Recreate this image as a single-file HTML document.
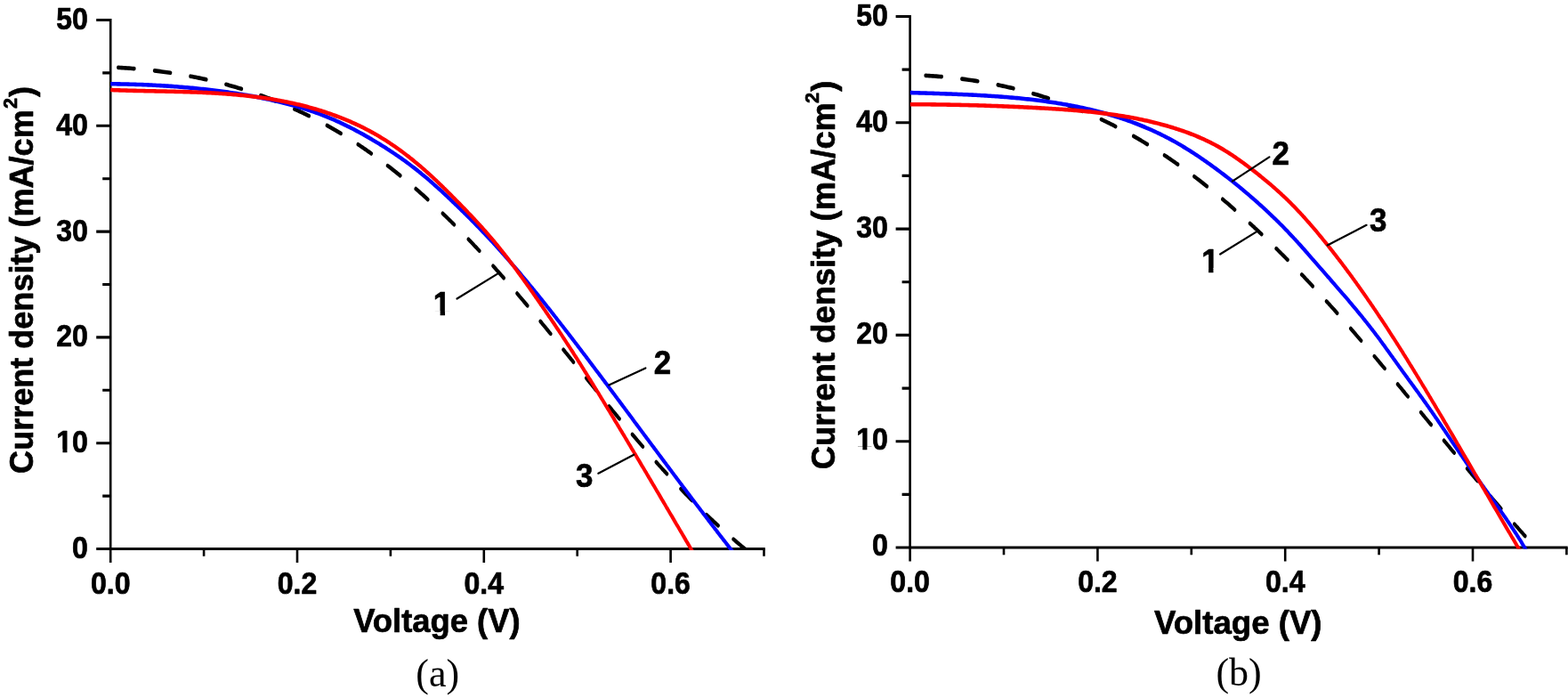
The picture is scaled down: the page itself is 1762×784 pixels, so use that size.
<!DOCTYPE html>
<html lang="en">
<head>
<meta charset="utf-8">
<title>Current density vs. voltage</title>
<style>
html, body { margin: 0; padding: 0; background: #ffffff; }
body { width: 1762px; height: 784px; overflow: hidden; }
svg { display: block; }
</style>
</head>
<body>
<svg width="1762" height="784" viewBox="0 0 1762 784" role="img" aria-label="Current density versus voltage curves, panels (a) and (b)">
<rect x="0" y="0" width="1762" height="784" fill="#ffffff"/>
<defs><clipPath id="one-tick-end"><rect x="-40.04" y="-37.62" width="102.60" height="33.53"/><rect x="-30.36" y="-37.62" width="5.29" height="47.88"/><rect x="-18.42" y="-37.62" width="22.02" height="47.88"/></clipPath><clipPath id="one-num"><rect x="-2.00" y="-41.36" width="112.80" height="36.92"/><rect x="8.48" y="-41.36" width="5.76" height="52.64"/></clipPath></defs>
<g stroke="#000" fill="none" stroke-linecap="butt">
<path stroke-width="2.6" d="M124.2,20.9 V632.0"/>
<path stroke-width="3.1" d="M108.2,616.5 H859.8"/>
<path stroke-width="3.1" d="M115.2,557.1 H124.2 M108.2,497.7 H124.2 M115.2,438.3 H124.2 M108.2,378.9 H124.2 M115.2,319.5 H124.2 M108.2,260.1 H124.2 M115.2,200.7 H124.2 M108.2,141.3 H124.2 M115.2,81.9 H124.2 M108.2,22.5 H124.2"/>
<path stroke-width="2.6" d="M229.1,616.5 V624.7 M334.0,616.5 V632.0 M438.9,616.5 V624.7 M543.8,616.5 V632.0 M648.7,616.5 V624.7 M753.6,616.5 V632.0 M858.5,616.5 V624.7"/>
</g>
<clipPath id="clipa"><rect x="122.90" y="0" width="736.90" height="618.05"/></clipPath>
<g clip-path="url(#clipa)">
<g transform="scale(1,1.25)"><path d="M132.9,60.71 L134.9,60.80 L136.9,60.89 L138.9,60.99 L140.9,61.09 L142.9,61.20 L144.9,61.32 L146.9,61.44 L148.8,61.56 L150.8,61.69 M173.7,63.53 L175.6,63.73 L177.6,63.92 L179.6,64.13 L181.6,64.34 L183.6,64.55 L185.6,64.77 L187.5,64.99 L189.5,65.22 L191.5,65.46 M214.1,68.54 L216.1,68.84 L218.0,69.15 L220.0,69.47 L221.9,69.79 L223.9,70.11 L225.9,70.44 L227.8,70.78 L229.8,71.12 L231.7,71.47 M254.0,75.87 L255.9,76.29 L257.8,76.72 L259.8,77.15 L261.7,77.59 L263.6,78.04 L265.5,78.49 L267.4,78.94 L269.4,79.41 L271.3,79.87 M293.0,85.68 L294.9,86.22 L296.8,86.77 L298.7,87.33 L300.5,87.89 L302.4,88.45 L304.3,89.03 L306.1,89.61 L308.0,90.19 L309.8,90.78 M330.9,97.98 L332.8,98.65 L334.6,99.32 L336.4,99.99 L338.2,100.67 L340.0,101.36 L341.8,102.05 L343.6,102.75 L345.4,103.46 L347.2,104.17 M367.5,112.72 L369.2,113.50 L371.0,114.29 L372.7,115.08 L374.4,115.88 L376.2,116.69 L377.9,117.50 L379.6,118.31 L381.3,119.13 L383.0,119.96 M402.4,129.79 L404.0,130.68 L405.7,131.58 L407.4,132.48 L409.0,133.38 L410.7,134.29 L412.3,135.20 L413.9,136.12 L415.6,137.04 L417.2,137.96 M435.6,148.89 L437.2,149.86 L438.8,150.85 L440.4,151.83 L441.9,152.82 L443.5,153.82 L445.1,154.81 L446.6,155.82 L448.2,156.82 L449.7,157.83 M467.3,169.64 L468.8,170.70 L470.3,171.75 L471.8,172.81 L473.3,173.87 L474.8,174.93 L476.3,176.00 L477.8,177.07 L479.2,178.14 L480.7,179.22 M497.5,191.76 L498.9,192.87 L500.3,193.98 L501.8,195.09 L503.2,196.21 L504.6,197.33 L506.1,198.45 L507.5,199.58 L508.9,200.71 L510.3,201.83 M526.4,214.94 L527.7,216.10 L529.1,217.26 L530.5,218.42 L531.9,219.58 L533.2,220.74 L534.6,221.91 L536.0,223.08 L537.3,224.25 L538.7,225.42 M554.1,238.97 L555.5,240.17 L556.8,241.36 L558.1,242.56 L559.5,243.75 L560.8,244.95 L562.1,246.15 L563.4,247.35 L564.8,248.55 L566.1,249.76 L566.1,249.76 M581.1,263.65 L582.4,264.87 L583.6,266.09 L584.9,267.31 L586.2,268.53 L587.5,269.75 L588.8,270.98 L590.1,272.20 L591.4,273.43 L592.7,274.65 M607.3,288.77 L608.6,290.01 L609.8,291.25 L611.1,292.48 L612.4,293.72 L613.6,294.96 L614.9,296.20 L616.2,297.44 L617.4,298.68 L618.7,299.92 M633.1,314.18 L634.4,315.42 L635.6,316.67 L636.9,317.91 L638.1,319.16 L639.4,320.41 L640.7,321.65 L641.9,322.90 L643.2,324.15 L644.4,325.39 M658.8,339.69 L660.0,340.93 L661.3,342.18 L662.5,343.43 L663.8,344.67 L665.1,345.92 L666.3,347.16 L667.6,348.41 L668.8,349.65 L670.1,350.90 M684.5,365.14 L685.8,366.38 L687.1,367.62 L688.3,368.86 L689.6,370.09 L690.9,371.33 L692.1,372.57 L693.4,373.80 L694.7,375.04 L696.0,376.27 M710.6,390.36 L711.9,391.59 L713.2,392.81 L714.5,394.03 L715.8,395.25 L717.1,396.47 L718.4,397.68 L719.7,398.90 L721.0,400.12 L722.3,401.33 M737.4,415.15 L738.7,416.34 L740.0,417.54 L741.4,418.73 L742.7,419.92 L744.0,421.11 L745.4,422.30 L746.7,423.49 L748.1,424.67 L749.4,425.85 M765.1,439.27 L766.4,440.43 L767.8,441.59 L769.2,442.74 L770.6,443.89 L772.0,445.04 L773.4,446.19 L774.8,447.33 L776.2,448.47 L777.6,449.61 M793.9,462.49 L795.4,463.60 L796.8,464.70 L798.3,465.80 L799.7,466.90 L801.2,467.99 L802.6,469.09 L804.1,470.18 L805.6,471.26 L807.0,472.34 M824.2,484.53 L825.7,485.57 L827.2,486.61 L828.7,487.64 L830.3,488.68 L831.8,489.70 L833.3,490.73 L834.9,491.75 L836.4,492.76 L837.2,493.25" fill="none" stroke="#000" stroke-width="3.7" stroke-linecap="round" stroke-linejoin="round"/></g>
<g transform="scale(1,1.2)" fill="none" stroke-width="3.8" stroke-linejoin="round">
<path d="M124.2,78.54 L126.2,78.56 L128.2,78.58 L130.2,78.61 L132.2,78.63 L134.2,78.66 L136.2,78.69 L138.2,78.73 L140.2,78.76 L142.3,78.80 L144.3,78.85 L146.3,78.89 L148.3,78.94 L150.3,78.99 L152.3,79.04 L154.3,79.10 L156.3,79.16 L158.3,79.22 L160.3,79.29 L162.3,79.35 L164.3,79.43 L166.3,79.50 L168.3,79.58 L170.3,79.66 L172.3,79.74 L174.3,79.83 L176.3,79.92 L178.3,80.01 L180.3,80.11 L182.3,80.21 L184.3,80.31 L186.3,80.42 L188.3,80.52 L190.3,80.64 L192.3,80.75 L194.3,80.87 L196.3,80.99 L198.3,81.12 L200.3,81.25 L202.3,81.38 L204.3,81.52 L206.3,81.66 L208.3,81.80 L210.3,81.95 L212.3,82.10 L214.3,82.25 L216.3,82.41 L218.3,82.57 L220.3,82.74 L222.3,82.91 L224.3,83.08 L226.3,83.26 L228.3,83.43 L230.3,83.62 L232.3,83.81 L234.3,84.00 L236.3,84.19 L238.3,84.39 L240.3,84.59 L242.2,84.80 L244.2,85.01 L246.2,85.23 L248.2,85.45 L250.2,85.67 L252.2,85.89 L254.2,86.13 L256.2,86.36 L258.1,86.60 L260.1,86.84 L262.1,87.09 L264.1,87.34 L266.1,87.60 L268.1,87.86 L270.0,88.12 L272.0,88.39 L274.0,88.66 L276.0,88.94 L278.0,89.22 L279.9,89.50 L281.9,89.80 L283.9,90.09 L285.9,90.39 L287.8,90.70 L289.8,91.01 L291.8,91.33 L293.7,91.65 L295.7,91.98 L297.7,92.31 L299.6,92.65 L301.6,93.00 L303.6,93.35 L305.5,93.71 L307.5,94.07 L309.4,94.44 L311.4,94.82 L313.3,95.21 L315.3,95.60 L317.2,96.00 L319.2,96.40 L321.1,96.82 L323.1,97.24 L325.0,97.66 L326.9,98.10 L328.9,98.54 L330.8,98.99 L332.7,99.45 L334.7,99.92 L336.6,100.39 L338.5,100.88 L340.4,101.37 L342.3,101.87 L344.2,102.38 L346.1,102.90 L348.1,103.42 L350.0,103.96 L351.8,104.50 L353.7,105.06 L355.6,105.62 L357.5,106.19 L359.4,106.78 L361.3,107.37 L363.1,107.97 L365.0,108.58 L366.9,109.20 L368.7,109.83 L370.6,110.47 L372.4,111.13 L374.3,111.79 L376.1,112.46 L377.9,113.14 L379.8,113.83 L381.6,114.53 L383.4,115.23 L385.2,115.95 L387.0,116.68 L388.8,117.41 L390.6,118.15 L392.4,118.90 L394.2,119.66 L396.0,120.42 L397.8,121.19 L399.5,121.97 L401.3,122.76 L403.1,123.55 L404.8,124.35 L406.6,125.16 L408.4,125.97 L410.1,126.79 L411.8,127.62 L413.6,128.45 L415.3,129.29 L417.1,130.13 L418.8,130.98 L420.5,131.83 L422.2,132.69 L423.9,133.56 L425.7,134.43 L427.4,135.30 L429.1,136.19 L430.8,137.07 L432.5,137.96 L434.2,138.86 L435.8,139.77 L437.5,140.68 L439.2,141.59 L440.9,142.51 L442.5,143.44 L444.2,144.38 L445.9,145.32 L447.5,146.26 L449.2,147.22 L450.8,148.18 L452.4,149.14 L454.1,150.11 L455.7,151.09 L457.3,152.08 L458.9,153.07 L460.5,154.07 L462.1,155.08 L463.7,156.09 L465.3,157.11 L466.9,158.14 L468.5,159.17 L470.1,160.21 L471.6,161.26 L473.2,162.31 L474.7,163.37 L476.3,164.44 L477.8,165.51 L479.4,166.59 L480.9,167.67 L482.4,168.76 L483.9,169.85 L485.4,170.95 L486.9,172.06 L488.4,173.16 L489.9,174.28 L491.4,175.39 L492.9,176.52 L494.4,177.64 L495.9,178.77 L497.4,179.90 L498.8,181.04 L500.3,182.17 L501.8,183.32 L503.2,184.46 L504.7,185.61 L506.1,186.76 L507.6,187.91 L509.0,189.06 L510.5,190.22 L511.9,191.38 L513.4,192.54 L514.8,193.70 L516.3,194.87 L517.7,196.03 L519.1,197.20 L520.6,198.37 L522.0,199.55 L523.4,200.72 L524.8,201.90 L526.3,203.08 L527.7,204.26 L529.1,205.45 L530.5,206.63 L531.9,207.82 L533.3,209.01 L534.7,210.21 L536.1,211.40 L537.5,212.60 L538.9,213.80 L540.3,215.01 L541.7,216.21 L543.1,217.42 L544.5,218.63 L545.8,219.85 L547.2,221.06 L548.6,222.28 L550.0,223.50 L551.3,224.72 L552.7,225.95 L554.1,227.18 L555.4,228.41 L556.8,229.64 L558.1,230.88 L559.5,232.11 L560.8,233.35 L562.2,234.60 L563.5,235.84 L564.8,237.09 L566.2,238.34 L567.5,239.59 L568.8,240.84 L570.2,242.09 L571.5,243.35 L572.8,244.61 L574.1,245.87 L575.4,247.13 L576.7,248.40 L578.1,249.66 L579.4,250.93 L580.7,252.20 L582.0,253.47 L583.3,254.75 L584.6,256.02 L585.9,257.30 L587.1,258.58 L588.4,259.86 L589.7,261.14 L591.0,262.42 L592.3,263.71 L593.6,264.99 L594.8,266.28 L596.1,267.57 L597.4,268.86 L598.7,270.16 L599.9,271.45 L601.2,272.74 L602.5,274.04 L603.7,275.34 L605.0,276.64 L606.3,277.94 L607.5,279.24 L608.8,280.54 L610.0,281.85 L611.3,283.15 L612.5,284.46 L613.8,285.77 L615.0,287.07 L616.3,288.38 L617.5,289.69 L618.8,291.01 L620.0,292.32 L621.3,293.63 L622.5,294.95 L623.7,296.26 L625.0,297.58 L626.2,298.89 L627.4,300.21 L628.7,301.53 L629.9,302.85 L631.1,304.17 L632.4,305.49 L633.6,306.81 L634.8,308.14 L636.0,309.46 L637.3,310.78 L638.5,312.11 L639.7,313.43 L640.9,314.76 L642.2,316.08 L643.4,317.41 L644.6,318.74 L645.8,320.06 L647.0,321.39 L648.3,322.72 L649.5,324.05 L650.7,325.38 L651.9,326.71 L653.1,328.04 L654.3,329.37 L655.5,330.70 L656.8,332.03 L658.0,333.37 L659.2,334.70 L660.4,336.03 L661.6,337.36 L662.8,338.70 L664.0,340.03 L665.2,341.37 L666.4,342.70 L667.6,344.04 L668.8,345.37 L670.0,346.71 L671.3,348.04 L672.5,349.38 L673.7,350.72 L674.9,352.05 L676.1,353.39 L677.3,354.73 L678.5,356.07 L679.7,357.41 L680.9,358.74 L682.1,360.08 L683.3,361.42 L684.5,362.76 L685.7,364.10 L686.9,365.44 L688.1,366.78 L689.3,368.12 L690.5,369.46 L691.7,370.80 L692.9,372.14 L694.1,373.48 L695.3,374.82 L696.5,376.16 L697.7,377.50 L698.9,378.84 L700.1,380.18 L701.3,381.52 L702.5,382.86 L703.7,384.20 L704.9,385.54 L706.1,386.88 L707.3,388.22 L708.5,389.57 L709.7,390.91 L710.9,392.25 L712.0,393.59 L713.2,394.93 L714.4,396.27 L715.6,397.61 L716.8,398.95 L718.0,400.30 L719.2,401.64 L720.4,402.98 L721.6,404.32 L722.8,405.66 L724.0,407.00 L725.2,408.34 L726.4,409.68 L727.6,411.02 L728.8,412.36 L730.0,413.71 L731.2,415.05 L732.4,416.39 L733.6,417.73 L734.8,419.07 L736.0,420.41 L737.2,421.75 L738.4,423.09 L739.6,424.43 L740.8,425.77 L742.0,427.11 L743.2,428.45 L744.4,429.79 L745.6,431.13 L746.8,432.47 L748.0,433.81 L749.2,435.15 L750.4,436.49 L751.6,437.82 L752.8,439.16 L754.0,440.50 L755.2,441.84 L756.4,443.18 L757.6,444.52 L758.8,445.85 L760.0,447.19 L761.2,448.53 L762.4,449.86 L763.6,451.20 L764.8,452.54 L766.0,453.87 L767.2,455.21 L768.4,456.55 L769.7,457.88 L770.9,459.22 L772.1,460.55 L773.3,461.89 L774.5,463.22 L775.7,464.55 L776.9,465.89 L778.1,467.22 L779.3,468.56 L780.5,469.89 L781.7,471.22 L782.9,472.55 L784.2,473.89 L785.4,475.22 L786.6,476.55 L787.8,477.88 L789.0,479.21 L790.2,480.54 L791.4,481.87 L792.7,483.20 L793.9,484.53 L795.1,485.86 L796.3,487.19 L797.5,488.51 L798.7,489.84 L800.0,491.17 L801.2,492.49 L802.4,493.82 L803.6,495.15 L804.9,496.47 L806.1,497.80 L807.3,499.12 L808.5,500.45 L809.7,501.77 L811.0,503.09 L812.2,504.42 L813.4,505.74 L814.7,507.06 L815.9,508.38 L817.1,509.70 L818.3,511.02 L819.6,512.34 L820.8,513.66 L824.5,517.61" stroke="#0000ff"/>
<path d="M124.2,84.17 L126.2,84.24 L128.2,84.30 L130.2,84.37 L132.2,84.43 L134.2,84.48 L136.2,84.54 L138.3,84.59 L140.3,84.65 L142.3,84.70 L144.3,84.74 L146.3,84.79 L148.3,84.83 L150.3,84.88 L152.3,84.92 L154.3,84.96 L156.3,85.00 L158.3,85.04 L160.3,85.07 L162.4,85.11 L164.4,85.14 L166.4,85.18 L168.4,85.21 L170.4,85.25 L172.4,85.28 L174.4,85.32 L176.4,85.35 L178.4,85.38 L180.4,85.42 L182.4,85.45 L184.4,85.49 L186.5,85.52 L188.5,85.56 L190.5,85.60 L192.5,85.63 L194.5,85.67 L196.5,85.71 L198.5,85.76 L200.5,85.80 L202.5,85.84 L204.5,85.89 L206.5,85.94 L208.5,85.99 L210.6,86.04 L212.6,86.09 L214.6,86.15 L216.6,86.20 L218.6,86.26 L220.6,86.33 L222.6,86.39 L224.6,86.46 L226.6,86.53 L228.6,86.61 L230.6,86.68 L232.6,86.76 L234.6,86.85 L236.6,86.93 L238.7,87.03 L240.7,87.12 L242.7,87.22 L244.7,87.32 L246.7,87.43 L248.7,87.54 L250.7,87.65 L252.7,87.77 L254.7,87.89 L256.7,88.02 L258.7,88.16 L260.7,88.29 L262.7,88.44 L264.7,88.58 L266.7,88.74 L268.7,88.89 L270.7,89.06 L272.7,89.23 L274.7,89.40 L276.7,89.58 L278.7,89.77 L280.7,89.96 L282.7,90.16 L284.7,90.36 L286.7,90.57 L288.7,90.79 L290.7,91.01 L292.6,91.24 L294.6,91.47 L296.6,91.71 L298.6,91.96 L300.6,92.21 L302.6,92.47 L304.6,92.74 L306.5,93.02 L308.5,93.30 L310.5,93.59 L312.5,93.88 L314.5,94.19 L316.4,94.50 L318.4,94.81 L320.4,95.14 L322.3,95.47 L324.3,95.81 L326.3,96.16 L328.2,96.51 L330.2,96.88 L332.2,97.25 L334.1,97.63 L336.1,98.01 L338.0,98.41 L340.0,98.81 L341.9,99.22 L343.9,99.64 L345.8,100.07 L347.7,100.51 L349.7,100.96 L351.6,101.41 L353.5,101.87 L355.5,102.34 L357.4,102.82 L359.3,103.31 L361.2,103.81 L363.1,104.32 L365.1,104.84 L367.0,105.36 L368.9,105.90 L370.8,106.44 L372.7,106.99 L374.6,107.56 L376.4,108.13 L378.3,108.71 L380.2,109.30 L382.1,109.90 L384.0,110.52 L385.8,111.14 L387.7,111.77 L389.5,112.41 L391.4,113.06 L393.2,113.72 L395.1,114.39 L396.9,115.07 L398.7,115.76 L400.6,116.46 L402.4,117.17 L404.2,117.89 L406.0,118.62 L407.8,119.36 L409.6,120.11 L411.4,120.88 L413.2,121.65 L414.9,122.43 L416.7,123.23 L418.5,124.03 L420.2,124.85 L422.0,125.67 L423.7,126.51 L425.4,127.36 L427.2,128.22 L428.9,129.09 L430.6,129.96 L432.3,130.85 L434.0,131.75 L435.7,132.66 L437.4,133.57 L439.0,134.50 L440.7,135.43 L442.4,136.38 L444.0,137.33 L445.7,138.29 L447.3,139.26 L448.9,140.24 L450.6,141.22 L452.2,142.22 L453.8,143.22 L455.4,144.23 L457.0,145.25 L458.6,146.27 L460.2,147.30 L461.7,148.34 L463.3,149.39 L464.9,150.44 L466.4,151.50 L468.0,152.56 L469.5,153.64 L471.0,154.72 L472.6,155.80 L474.1,156.89 L475.6,157.99 L477.1,159.09 L478.6,160.20 L480.1,161.32 L481.6,162.44 L483.1,163.56 L484.6,164.69 L486.1,165.83 L487.5,166.97 L489.0,168.11 L490.5,169.26 L491.9,170.41 L493.4,171.57 L494.8,172.73 L496.3,173.89 L497.7,175.06 L499.1,176.23 L500.6,177.40 L502.0,178.58 L503.4,179.76 L504.9,180.94 L506.3,182.12 L507.7,183.31 L509.1,184.49 L510.5,185.68 L511.9,186.88 L513.3,188.07 L514.8,189.26 L516.2,190.46 L517.6,191.66 L519.0,192.86 L520.4,194.06 L521.8,195.26 L523.2,196.46 L524.6,197.67 L525.9,198.88 L527.3,200.09 L528.7,201.30 L530.1,202.51 L531.5,203.73 L532.9,204.95 L534.2,206.17 L535.6,207.40 L537.0,208.63 L538.3,209.86 L539.7,211.10 L541.0,212.34 L542.4,213.58 L543.7,214.83 L545.0,216.08 L546.4,217.33 L547.7,218.59 L549.0,219.85 L550.3,221.12 L551.6,222.39 L552.9,223.67 L554.2,224.95 L555.5,226.23 L556.8,227.52 L558.1,228.81 L559.4,230.11 L560.6,231.41 L561.9,232.71 L563.1,234.01 L564.4,235.32 L565.6,236.64 L566.9,237.95 L568.1,239.27 L569.4,240.59 L570.6,241.92 L571.8,243.24 L573.0,244.58 L574.2,245.91 L575.5,247.24 L576.7,248.58 L577.9,249.92 L579.1,251.27 L580.3,252.61 L581.4,253.96 L582.6,255.31 L583.8,256.66 L585.0,258.01 L586.2,259.37 L587.4,260.73 L588.5,262.09 L589.7,263.45 L590.9,264.81 L592.0,266.17 L593.2,267.54 L594.4,268.90 L595.5,270.27 L596.7,271.64 L597.8,273.01 L599.0,274.38 L600.1,275.75 L601.3,277.13 L602.4,278.50 L603.6,279.88 L604.7,281.25 L605.9,282.63 L607.0,284.00 L608.1,285.38 L609.3,286.76 L610.4,288.14 L611.6,289.52 L612.7,290.90 L613.8,292.28 L615.0,293.66 L616.1,295.04 L617.2,296.42 L618.4,297.81 L619.5,299.19 L620.6,300.58 L621.8,301.96 L622.9,303.35 L624.0,304.74 L625.1,306.13 L626.2,307.52 L627.4,308.91 L628.5,310.30 L629.6,311.70 L630.7,313.09 L631.8,314.49 L632.9,315.89 L634.0,317.28 L635.1,318.68 L636.2,320.09 L637.3,321.49 L638.4,322.89 L639.5,324.30 L640.6,325.70 L641.7,327.11 L642.8,328.52 L643.9,329.93 L644.9,331.33 L646.0,332.75 L647.1,334.16 L648.2,335.57 L649.3,336.98 L650.3,338.40 L651.4,339.81 L652.5,341.23 L653.5,342.65 L654.6,344.07 L655.7,345.48 L656.7,346.90 L657.8,348.32 L658.9,349.74 L659.9,351.17 L661.0,352.59 L662.0,354.01 L663.1,355.43 L664.2,356.86 L665.2,358.28 L666.3,359.71 L667.3,361.13 L668.4,362.56 L669.4,363.99 L670.5,365.41 L671.5,366.84 L672.6,368.27 L673.6,369.70 L674.7,371.13 L675.7,372.56 L676.8,373.99 L677.8,375.42 L678.8,376.85 L679.9,378.28 L680.9,379.71 L682.0,381.14 L683.0,382.57 L684.1,384.00 L685.1,385.43 L686.1,386.87 L687.2,388.30 L688.2,389.73 L689.3,391.16 L690.3,392.60 L691.3,394.03 L692.4,395.46 L693.4,396.90 L694.4,398.33 L695.5,399.77 L696.5,401.20 L697.5,402.64 L698.6,404.07 L699.6,405.51 L700.7,406.94 L701.7,408.38 L702.7,409.81 L703.7,411.25 L704.8,412.68 L705.8,414.12 L706.8,415.56 L707.9,417.00 L708.9,418.43 L709.9,419.87 L711.0,421.31 L712.0,422.74 L713.0,424.18 L714.1,425.62 L715.1,427.06 L716.1,428.50 L717.1,429.94 L718.2,431.37 L719.2,432.81 L720.2,434.25 L721.2,435.69 L722.3,437.13 L723.3,438.57 L724.3,440.01 L725.3,441.45 L726.4,442.89 L727.4,444.33 L728.4,445.77 L729.4,447.21 L730.5,448.65 L731.5,450.09 L732.5,451.53 L733.5,452.97 L734.6,454.42 L735.6,455.86 L736.6,457.30 L737.6,458.74 L738.6,460.18 L739.7,461.62 L740.7,463.06 L741.7,464.51 L742.7,465.95 L743.7,467.39 L744.8,468.83 L745.8,470.28 L746.8,471.72 L747.8,473.16 L748.8,474.60 L749.9,476.04 L750.9,477.49 L751.9,478.93 L752.9,480.37 L753.9,481.82 L755.0,483.26 L756.0,484.70 L757.0,486.14 L758.0,487.59 L759.0,489.03 L760.0,490.47 L761.1,491.92 L762.1,493.36 L763.1,494.80 L764.1,496.25 L765.1,497.69 L766.2,499.13 L767.2,500.58 L768.2,502.02 L769.2,503.46 L770.2,504.91 L771.2,506.35 L772.3,507.80 L773.3,509.24 L774.3,510.68 L775.3,512.13 L776.3,513.57 L779.4,517.88" stroke="#ff0000"/>
</g>
</g>
<g font-family="'Liberation Sans', Arial, sans-serif" font-weight="bold" fill="#000" stroke="#000" stroke-width="0.7" stroke-linejoin="round" font-size="34.2">
<text transform="translate(98.9,626.7) scale(0.936,1)" text-anchor="end">0</text>
<text transform="translate(98.9,508.0) scale(0.936,1)" text-anchor="end" clip-path="url(#one-tick-end)">10</text>
<text transform="translate(98.9,389.3) scale(0.936,1)" text-anchor="end">20</text>
<text transform="translate(98.9,270.5) scale(0.936,1)" text-anchor="end">30</text>
<text transform="translate(98.9,151.8) scale(0.936,1)" text-anchor="end">40</text>
<text transform="translate(98.9,33.1) scale(0.936,1)" text-anchor="end">50</text>
<text transform="translate(124.2,666.90) scale(0.936,1)" text-anchor="middle">0.0</text>
<text transform="translate(334.0,666.90) scale(0.936,1)" text-anchor="middle">0.2</text>
<text transform="translate(543.8,666.90) scale(0.936,1)" text-anchor="middle">0.4</text>
<text transform="translate(753.6,666.90) scale(0.936,1)" text-anchor="middle">0.6</text>
</g>
<g stroke="#000" fill="none" stroke-linecap="butt">
<path stroke-width="2.6" d="M1022.6,16.9 V630.5"/>
<path stroke-width="3.1" d="M1006.6,615.0 H1761.7"/>
<path stroke-width="3.1" d="M1013.6,555.4 H1022.6 M1006.6,495.7 H1022.6 M1013.6,436.1 H1022.6 M1006.6,376.4 H1022.6 M1013.6,316.8 H1022.6 M1006.6,257.1 H1022.6 M1013.6,197.4 H1022.6 M1006.6,137.8 H1022.6 M1013.6,78.1 H1022.6 M1006.6,18.5 H1022.6"/>
<path stroke-width="2.6" d="M1128.0,615.0 V623.2 M1233.4,615.0 V630.5 M1338.8,615.0 V623.2 M1444.2,615.0 V630.5 M1549.6,615.0 V623.2 M1655.0,615.0 V630.5 M1760.4,615.0 V623.2"/>
</g>
<clipPath id="clipb"><rect x="1021.30" y="0" width="740.40" height="616.55"/></clipPath>
<g clip-path="url(#clipb)">
<g transform="scale(1,1.25)"><path d="M1040.2,67.90 L1042.2,67.99 L1044.2,68.09 L1046.1,68.20 L1048.1,68.31 L1050.1,68.42 L1052.1,68.54 L1054.1,68.67 L1056.1,68.80 L1058.1,68.94 M1080.9,70.91 L1082.9,71.12 L1084.9,71.33 L1086.9,71.55 L1088.8,71.77 L1090.8,72.00 L1092.8,72.24 L1094.8,72.48 L1096.7,72.73 L1098.7,72.98 M1121.3,76.29 L1123.2,76.62 L1125.2,76.95 L1127.1,77.29 L1129.1,77.63 L1131.0,77.98 L1133.0,78.34 L1134.9,78.70 L1136.9,79.06 L1138.8,79.44 M1161.0,84.13 L1162.9,84.58 L1164.8,85.03 L1166.8,85.49 L1168.7,85.96 L1170.6,86.43 L1172.5,86.91 L1174.4,87.39 L1176.3,87.88 L1178.2,88.38 M1199.8,94.49 L1201.7,95.06 L1203.6,95.63 L1205.4,96.21 L1207.3,96.80 L1209.1,97.39 L1211.0,97.99 L1212.8,98.59 L1214.7,99.20 L1216.5,99.82 M1237.5,107.27 L1239.3,107.96 L1241.1,108.65 L1242.9,109.34 L1244.7,110.04 L1246.5,110.75 L1248.3,111.46 L1250.1,112.18 L1251.9,112.90 L1253.6,113.63 M1273.8,122.35 L1275.5,123.15 L1277.3,123.95 L1279.0,124.75 L1280.7,125.56 L1282.5,126.37 L1284.2,127.19 L1285.9,128.01 L1287.6,128.84 L1289.3,129.67 M1308.6,139.55 L1310.3,140.44 L1312.0,141.33 L1313.6,142.23 L1315.3,143.13 L1316.9,144.04 L1318.6,144.95 L1320.2,145.86 L1321.8,146.78 L1323.5,147.70 M1342.0,158.54 L1343.6,159.51 L1345.1,160.48 L1346.7,161.46 L1348.3,162.44 L1349.9,163.42 L1351.5,164.41 L1353.0,165.40 L1354.6,166.39 L1356.2,167.38 M1373.9,179.02 L1375.4,180.05 L1376.9,181.09 L1378.5,182.13 L1380.0,183.17 L1381.5,184.21 L1383.0,185.26 L1384.5,186.31 L1386.0,187.36 L1387.5,188.42 M1404.6,200.69 L1406.0,201.78 L1407.5,202.86 L1409.0,203.95 L1410.4,205.05 L1411.9,206.14 L1413.4,207.24 L1414.8,208.33 L1416.3,209.43 L1417.7,210.54 M1434.2,223.31 L1435.6,224.44 L1437.0,225.57 L1438.4,226.70 L1439.8,227.83 L1441.2,228.96 L1442.7,230.10 L1444.1,231.23 L1445.5,232.37 L1446.9,233.51 M1462.8,246.70 L1464.2,247.86 L1465.6,249.02 L1466.9,250.18 L1468.3,251.35 L1469.7,252.51 L1471.0,253.68 L1472.4,254.85 L1473.8,256.02 L1475.1,257.19 M1490.6,270.71 L1492.0,271.90 L1493.3,273.09 L1494.7,274.27 L1496.0,275.47 L1497.3,276.66 L1498.7,277.85 L1500.0,279.04 L1501.3,280.24 L1502.6,281.43 M1517.8,295.22 L1519.1,296.42 L1520.4,297.63 L1521.7,298.84 L1523.0,300.05 L1524.3,301.26 L1525.6,302.48 L1526.9,303.69 L1528.2,304.90 L1529.5,306.12 M1544.4,320.09 L1545.7,321.32 L1547.0,322.54 L1548.3,323.76 L1549.5,324.99 L1550.8,326.21 L1552.1,327.44 L1553.4,328.67 L1554.7,329.89 L1556.0,331.12 M1570.6,345.22 L1571.9,346.46 L1573.2,347.69 L1574.5,348.92 L1575.7,350.16 L1577.0,351.39 L1578.3,352.62 L1579.5,353.86 L1580.8,355.09 L1582.1,356.33 M1596.7,370.50 L1597.9,371.74 L1599.2,372.97 L1600.5,374.21 L1601.7,375.45 L1603.0,376.69 L1604.3,377.92 L1605.5,379.16 L1606.8,380.40 L1608.1,381.63 M1622.6,395.81 L1623.9,397.05 L1625.2,398.29 L1626.4,399.52 L1627.7,400.76 L1629.0,401.99 L1630.2,403.23 L1631.5,404.46 L1632.8,405.70 L1634.1,406.93 M1648.7,421.06 L1650.0,422.29 L1651.2,423.52 L1652.5,424.74 L1653.8,425.97 L1655.1,427.20 L1656.4,428.43 L1657.7,429.65 L1658.9,430.88 L1660.2,432.11 M1675.0,446.12 L1676.3,447.34 L1677.6,448.55 L1678.9,449.77 L1680.2,450.99 L1681.5,452.20 L1682.8,453.42 L1684.1,454.63 L1685.4,455.84 L1686.7,457.06 M1701.8,470.89 L1703.1,472.09 L1704.4,473.29 L1705.8,474.49 L1707.1,475.69 L1708.4,476.88 L1709.7,478.08 L1711.1,479.27 L1712.4,480.47 L1713.7,481.66" fill="none" stroke="#000" stroke-width="3.7" stroke-linecap="round" stroke-linejoin="round"/></g>
<g transform="scale(1,1.2)" fill="none" stroke-width="3.8" stroke-linejoin="round">
<path d="M1022.8,86.73 L1024.8,86.78 L1026.8,86.84 L1028.8,86.89 L1030.8,86.94 L1032.8,86.99 L1034.8,87.04 L1036.8,87.10 L1038.8,87.15 L1040.8,87.20 L1042.8,87.25 L1044.8,87.30 L1046.8,87.36 L1048.9,87.41 L1050.9,87.47 L1052.9,87.52 L1054.9,87.58 L1056.9,87.63 L1058.9,87.69 L1060.9,87.75 L1062.9,87.81 L1064.9,87.87 L1066.9,87.93 L1068.9,87.99 L1070.9,88.06 L1072.9,88.12 L1074.9,88.19 L1076.9,88.26 L1078.9,88.33 L1080.9,88.40 L1082.9,88.47 L1084.9,88.54 L1086.9,88.62 L1088.9,88.70 L1090.9,88.78 L1092.9,88.86 L1094.9,88.95 L1096.9,89.03 L1098.9,89.12 L1100.9,89.21 L1102.9,89.31 L1104.9,89.40 L1106.9,89.50 L1108.9,89.60 L1110.9,89.71 L1112.9,89.82 L1114.9,89.93 L1116.9,90.04 L1118.9,90.15 L1120.9,90.27 L1122.9,90.39 L1124.9,90.52 L1126.9,90.65 L1128.9,90.78 L1130.9,90.91 L1132.9,91.05 L1134.9,91.19 L1136.9,91.34 L1138.9,91.49 L1140.9,91.64 L1142.9,91.79 L1144.9,91.95 L1146.9,92.12 L1148.9,92.29 L1150.9,92.46 L1152.9,92.63 L1154.9,92.82 L1156.9,93.00 L1158.9,93.19 L1160.9,93.38 L1162.8,93.58 L1164.8,93.78 L1166.8,93.99 L1168.8,94.20 L1170.8,94.42 L1172.8,94.64 L1174.8,94.87 L1176.8,95.10 L1178.7,95.33 L1180.7,95.58 L1182.7,95.82 L1184.7,96.08 L1186.7,96.33 L1188.7,96.60 L1190.6,96.86 L1192.6,97.14 L1194.6,97.42 L1196.6,97.71 L1198.5,98.00 L1200.5,98.29 L1202.5,98.60 L1204.5,98.91 L1206.4,99.23 L1208.4,99.55 L1210.4,99.88 L1212.3,100.21 L1214.3,100.55 L1216.2,100.90 L1218.2,101.26 L1220.2,101.62 L1222.1,101.99 L1224.1,102.37 L1226.0,102.75 L1228.0,103.14 L1229.9,103.54 L1231.9,103.94 L1233.8,104.36 L1235.7,104.78 L1237.7,105.20 L1239.6,105.64 L1241.5,106.08 L1243.5,106.53 L1245.4,106.99 L1247.3,107.46 L1249.3,107.93 L1251.2,108.41 L1253.1,108.90 L1255.0,109.40 L1256.9,109.91 L1258.8,110.42 L1260.7,110.95 L1262.6,111.48 L1264.5,112.02 L1266.4,112.57 L1268.3,113.13 L1270.2,113.70 L1272.1,114.27 L1273.9,114.86 L1275.8,115.45 L1277.7,116.05 L1279.6,116.66 L1281.4,117.28 L1283.3,117.91 L1285.1,118.55 L1287.0,119.19 L1288.8,119.85 L1290.7,120.51 L1292.5,121.18 L1294.3,121.86 L1296.2,122.55 L1298.0,123.25 L1299.8,123.96 L1301.6,124.68 L1303.4,125.40 L1305.2,126.14 L1307.0,126.88 L1308.8,127.64 L1310.6,128.40 L1312.4,129.17 L1314.1,129.95 L1315.9,130.74 L1317.7,131.54 L1319.4,132.34 L1321.2,133.16 L1322.9,133.99 L1324.6,134.82 L1326.4,135.66 L1328.1,136.51 L1329.8,137.37 L1331.5,138.24 L1333.2,139.11 L1334.9,139.99 L1336.6,140.88 L1338.3,141.78 L1340.0,142.68 L1341.7,143.59 L1343.4,144.51 L1345.1,145.43 L1346.7,146.36 L1348.4,147.30 L1350.0,148.24 L1351.7,149.18 L1353.3,150.14 L1355.0,151.09 L1356.6,152.06 L1358.2,153.02 L1359.9,154.00 L1361.5,154.97 L1363.1,155.96 L1364.7,156.94 L1366.4,157.93 L1368.0,158.93 L1369.6,159.93 L1371.2,160.93 L1372.8,161.94 L1374.4,162.95 L1376.0,163.96 L1377.6,164.98 L1379.1,166.00 L1380.7,167.03 L1382.3,168.06 L1383.9,169.09 L1385.5,170.13 L1387.0,171.17 L1388.6,172.22 L1390.1,173.27 L1391.7,174.32 L1393.2,175.38 L1394.8,176.44 L1396.3,177.51 L1397.9,178.58 L1399.4,179.65 L1400.9,180.73 L1402.5,181.81 L1404.0,182.90 L1405.5,183.99 L1407.0,185.08 L1408.5,186.18 L1410.0,187.28 L1411.6,188.39 L1413.1,189.50 L1414.5,190.61 L1416.0,191.73 L1417.5,192.85 L1419.0,193.98 L1420.5,195.11 L1422.0,196.24 L1423.4,197.38 L1424.9,198.52 L1426.3,199.67 L1427.8,200.82 L1429.2,201.97 L1430.7,203.13 L1432.1,204.29 L1433.6,205.45 L1435.0,206.62 L1436.4,207.80 L1437.8,208.98 L1439.3,210.16 L1440.7,211.34 L1442.1,212.53 L1443.5,213.73 L1444.9,214.93 L1446.3,216.13 L1447.7,217.33 L1449.0,218.54 L1450.4,219.76 L1451.8,220.97 L1453.2,222.20 L1454.5,223.42 L1455.9,224.65 L1457.2,225.88 L1458.6,227.12 L1459.9,228.36 L1461.3,229.60 L1462.6,230.84 L1463.9,232.09 L1465.3,233.34 L1466.6,234.59 L1467.9,235.84 L1469.3,237.10 L1470.6,238.35 L1471.9,239.61 L1473.2,240.87 L1474.5,242.13 L1475.8,243.39 L1477.2,244.65 L1478.5,245.91 L1479.8,247.17 L1481.1,248.43 L1482.4,249.70 L1483.7,250.96 L1485.1,252.22 L1486.4,253.48 L1487.7,254.74 L1489.0,256.00 L1490.3,257.25 L1491.6,258.51 L1493.0,259.77 L1494.3,261.03 L1495.6,262.29 L1496.9,263.55 L1498.2,264.81 L1499.6,266.07 L1500.9,267.33 L1502.2,268.59 L1503.5,269.85 L1504.8,271.11 L1506.1,272.37 L1507.4,273.63 L1508.7,274.90 L1510.1,276.17 L1511.4,277.43 L1512.7,278.70 L1514.0,279.97 L1515.3,281.24 L1516.6,282.52 L1517.9,283.79 L1519.2,285.07 L1520.4,286.35 L1521.7,287.63 L1523.0,288.91 L1524.3,290.19 L1525.6,291.48 L1526.9,292.77 L1528.1,294.06 L1529.4,295.35 L1530.7,296.65 L1531.9,297.95 L1533.2,299.25 L1534.4,300.55 L1535.7,301.86 L1536.9,303.17 L1538.2,304.48 L1539.4,305.79 L1540.6,307.11 L1541.9,308.43 L1543.1,309.75 L1544.3,311.08 L1545.5,312.40 L1546.7,313.74 L1548.0,315.07 L1549.2,316.41 L1550.4,317.75 L1551.5,319.09 L1552.7,320.44 L1553.9,321.79 L1555.1,323.14 L1556.3,324.49 L1557.4,325.84 L1558.6,327.20 L1559.8,328.55 L1561.0,329.91 L1562.1,331.27 L1563.3,332.63 L1564.5,333.99 L1565.6,335.35 L1566.8,336.71 L1568.0,338.06 L1569.1,339.42 L1570.3,340.78 L1571.5,342.14 L1572.6,343.50 L1573.8,344.85 L1575.0,346.21 L1576.1,347.56 L1577.3,348.92 L1578.5,350.27 L1579.7,351.62 L1580.9,352.97 L1582.0,354.32 L1583.2,355.66 L1584.4,357.01 L1585.6,358.36 L1586.8,359.71 L1588.0,361.06 L1589.1,362.41 L1590.3,363.75 L1591.5,365.10 L1592.7,366.45 L1593.9,367.80 L1595.0,369.16 L1596.2,370.51 L1597.4,371.86 L1598.6,373.22 L1599.7,374.58 L1600.9,375.94 L1602.1,377.30 L1603.2,378.66 L1604.4,380.03 L1605.5,381.39 L1606.7,382.76 L1607.8,384.13 L1609.0,385.50 L1610.1,386.88 L1611.3,388.25 L1612.4,389.63 L1613.5,391.00 L1614.7,392.38 L1615.8,393.76 L1616.9,395.14 L1618.1,396.52 L1619.2,397.90 L1620.3,399.29 L1621.4,400.67 L1622.6,402.05 L1623.7,403.44 L1624.8,404.82 L1625.9,406.21 L1627.0,407.59 L1628.2,408.98 L1629.3,410.36 L1630.4,411.75 L1631.5,413.13 L1632.6,414.52 L1633.8,415.91 L1634.9,417.29 L1636.0,418.67 L1637.1,420.06 L1638.3,421.44 L1639.4,422.82 L1640.5,424.21 L1641.6,425.59 L1642.8,426.97 L1643.9,428.35 L1645.0,429.73 L1646.2,431.10 L1647.3,432.48 L1648.4,433.86 L1649.6,435.23 L1650.7,436.60 L1651.9,437.97 L1653.0,439.34 L1654.2,440.71 L1655.3,442.07 L1656.5,443.44 L1657.6,444.80 L1658.8,446.16 L1660.0,447.52 L1661.1,448.88 L1662.3,450.24 L1663.5,451.60 L1664.6,452.96 L1665.8,454.31 L1667.0,455.67 L1668.1,457.03 L1669.3,458.38 L1670.5,459.74 L1671.7,461.09 L1672.8,462.45 L1674.0,463.81 L1675.2,465.16 L1676.3,466.52 L1677.5,467.88 L1678.7,469.23 L1679.8,470.59 L1681.0,471.95 L1682.2,473.32 L1683.3,474.68 L1684.5,476.04 L1685.6,477.41 L1686.8,478.77 L1687.9,480.14 L1689.1,481.51 L1690.2,482.89 L1691.4,484.26 L1692.5,485.64 L1693.6,487.02 L1694.8,488.40 L1695.9,489.78 L1697.0,491.17 L1698.1,492.56 L1699.2,493.95 L1700.3,495.34 L1701.4,496.74 L1702.5,498.14 L1703.6,499.54 L1704.7,500.95 L1705.8,502.36 L1706.8,503.77 L1707.9,505.19 L1709.0,506.61 L1710.0,508.03 L1711.0,509.46 L1712.1,510.89 L1713.1,512.33 L1716.2,516.62" stroke="#0000ff"/>
<path d="M1022.8,97.67 L1024.8,97.68 L1026.8,97.68 L1028.8,97.69 L1030.8,97.70 L1032.8,97.70 L1034.8,97.71 L1036.8,97.73 L1038.8,97.74 L1040.9,97.75 L1042.9,97.76 L1044.9,97.78 L1046.9,97.80 L1048.9,97.82 L1050.9,97.83 L1052.9,97.86 L1054.9,97.88 L1056.9,97.90 L1058.9,97.92 L1060.9,97.95 L1062.9,97.98 L1064.9,98.00 L1066.9,98.03 L1068.9,98.06 L1070.9,98.09 L1072.9,98.13 L1074.9,98.16 L1076.9,98.20 L1079.0,98.23 L1081.0,98.27 L1083.0,98.31 L1085.0,98.35 L1087.0,98.39 L1089.0,98.43 L1091.0,98.48 L1093.0,98.52 L1095.0,98.57 L1097.0,98.61 L1099.0,98.66 L1101.0,98.71 L1103.0,98.76 L1105.0,98.82 L1107.0,98.87 L1109.0,98.92 L1111.0,98.98 L1113.0,99.04 L1115.0,99.10 L1117.0,99.16 L1119.1,99.22 L1121.1,99.28 L1123.1,99.34 L1125.1,99.41 L1127.1,99.47 L1129.1,99.54 L1131.1,99.61 L1133.1,99.68 L1135.1,99.75 L1137.1,99.82 L1139.1,99.89 L1141.1,99.97 L1143.1,100.04 L1145.1,100.12 L1147.1,100.20 L1149.1,100.28 L1151.1,100.36 L1153.1,100.44 L1155.1,100.52 L1157.1,100.61 L1159.1,100.69 L1161.1,100.78 L1163.1,100.87 L1165.1,100.96 L1167.1,101.05 L1169.1,101.14 L1171.1,101.23 L1173.1,101.33 L1175.2,101.42 L1177.2,101.52 L1179.2,101.62 L1181.2,101.72 L1183.2,101.82 L1185.2,101.93 L1187.2,102.04 L1189.2,102.15 L1191.2,102.26 L1193.2,102.37 L1195.2,102.49 L1197.2,102.61 L1199.2,102.73 L1201.2,102.86 L1203.2,102.99 L1205.2,103.12 L1207.2,103.25 L1209.2,103.39 L1211.2,103.54 L1213.2,103.68 L1215.2,103.83 L1217.2,103.98 L1219.2,104.14 L1221.2,104.30 L1223.1,104.47 L1225.1,104.64 L1227.1,104.81 L1229.1,104.99 L1231.1,105.17 L1233.1,105.36 L1235.1,105.55 L1237.1,105.75 L1239.1,105.96 L1241.1,106.16 L1243.1,106.38 L1245.1,106.60 L1247.0,106.82 L1249.0,107.05 L1251.0,107.28 L1253.0,107.53 L1255.0,107.77 L1257.0,108.03 L1259.0,108.29 L1260.9,108.55 L1262.9,108.82 L1264.9,109.10 L1266.9,109.39 L1268.8,109.68 L1270.8,109.98 L1272.8,110.28 L1274.8,110.59 L1276.7,110.91 L1278.7,111.24 L1280.7,111.57 L1282.6,111.91 L1284.6,112.26 L1286.5,112.62 L1288.5,112.98 L1290.5,113.35 L1292.4,113.73 L1294.4,114.12 L1296.3,114.51 L1298.3,114.91 L1300.2,115.32 L1302.1,115.74 L1304.1,116.17 L1306.0,116.60 L1308.0,117.05 L1309.9,117.50 L1311.8,117.96 L1313.7,118.43 L1315.7,118.91 L1317.6,119.40 L1319.5,119.89 L1321.4,120.40 L1323.3,120.91 L1325.2,121.44 L1327.1,121.97 L1329.0,122.51 L1330.9,123.07 L1332.8,123.63 L1334.7,124.21 L1336.6,124.79 L1338.4,125.39 L1340.3,126.00 L1342.2,126.61 L1344.0,127.25 L1345.9,127.89 L1347.7,128.54 L1349.6,129.21 L1351.4,129.89 L1353.2,130.58 L1355.0,131.28 L1356.8,132.00 L1358.7,132.73 L1360.4,133.47 L1362.2,134.23 L1364.0,135.00 L1365.8,135.79 L1367.5,136.59 L1369.3,137.40 L1371.0,138.23 L1372.8,139.07 L1374.5,139.92 L1376.2,140.78 L1377.9,141.66 L1379.6,142.55 L1381.3,143.45 L1383.0,144.36 L1384.7,145.28 L1386.3,146.21 L1388.0,147.15 L1389.6,148.10 L1391.3,149.06 L1392.9,150.02 L1394.6,151.00 L1396.2,151.98 L1397.8,152.96 L1399.4,153.95 L1401.0,154.95 L1402.6,155.96 L1404.2,156.97 L1405.8,157.98 L1407.4,159.00 L1409.0,160.02 L1410.6,161.05 L1412.2,162.08 L1413.7,163.12 L1415.3,164.16 L1416.9,165.21 L1418.4,166.26 L1420.0,167.32 L1421.5,168.38 L1423.1,169.45 L1424.6,170.52 L1426.1,171.60 L1427.7,172.68 L1429.2,173.77 L1430.7,174.86 L1432.2,175.97 L1433.7,177.07 L1435.2,178.18 L1436.7,179.30 L1438.2,180.43 L1439.7,181.56 L1441.1,182.69 L1442.6,183.84 L1444.1,184.98 L1445.5,186.14 L1447.0,187.30 L1448.4,188.47 L1449.8,189.65 L1451.2,190.83 L1452.6,192.02 L1454.0,193.21 L1455.4,194.41 L1456.8,195.62 L1458.2,196.83 L1459.6,198.05 L1461.0,199.27 L1462.3,200.50 L1463.7,201.73 L1465.0,202.97 L1466.4,204.21 L1467.7,205.46 L1469.0,206.71 L1470.3,207.97 L1471.7,209.22 L1473.0,210.49 L1474.3,211.75 L1475.6,213.02 L1476.9,214.30 L1478.2,215.57 L1479.5,216.85 L1480.8,218.14 L1482.0,219.42 L1483.3,220.71 L1484.6,222.00 L1485.9,223.29 L1487.1,224.59 L1488.4,225.89 L1489.7,227.19 L1490.9,228.49 L1492.2,229.79 L1493.4,231.10 L1494.7,232.41 L1495.9,233.72 L1497.2,235.03 L1498.4,236.35 L1499.6,237.66 L1500.9,238.98 L1502.1,240.30 L1503.3,241.63 L1504.5,242.95 L1505.8,244.28 L1507.0,245.61 L1508.2,246.94 L1509.4,248.28 L1510.6,249.61 L1511.8,250.95 L1513.0,252.29 L1514.2,253.63 L1515.4,254.97 L1516.6,256.32 L1517.8,257.66 L1519.0,259.01 L1520.1,260.36 L1521.3,261.72 L1522.5,263.07 L1523.7,264.42 L1524.8,265.78 L1526.0,267.14 L1527.2,268.50 L1528.3,269.86 L1529.5,271.23 L1530.6,272.59 L1531.8,273.96 L1533.0,275.33 L1534.1,276.70 L1535.3,278.07 L1536.4,279.44 L1537.5,280.82 L1538.7,282.19 L1539.8,283.57 L1540.9,284.95 L1542.1,286.33 L1543.2,287.71 L1544.3,289.09 L1545.5,290.48 L1546.6,291.86 L1547.7,293.25 L1548.8,294.64 L1549.9,296.03 L1551.0,297.42 L1552.2,298.81 L1553.3,300.20 L1554.4,301.60 L1555.5,302.99 L1556.6,304.39 L1557.7,305.79 L1558.8,307.19 L1559.9,308.59 L1561.0,309.99 L1562.0,311.39 L1563.1,312.80 L1564.2,314.20 L1565.3,315.61 L1566.4,317.01 L1567.5,318.42 L1568.6,319.83 L1569.6,321.24 L1570.7,322.65 L1571.8,324.06 L1572.9,325.47 L1573.9,326.89 L1575.0,328.30 L1576.1,329.71 L1577.1,331.13 L1578.2,332.55 L1579.3,333.96 L1580.3,335.38 L1581.4,336.80 L1582.4,338.22 L1583.5,339.64 L1584.5,341.06 L1585.6,342.49 L1586.7,343.91 L1587.7,345.33 L1588.8,346.76 L1589.8,348.18 L1590.9,349.61 L1591.9,351.03 L1592.9,352.46 L1594.0,353.89 L1595.0,355.32 L1596.1,356.75 L1597.1,358.17 L1598.1,359.60 L1599.2,361.03 L1600.2,362.47 L1601.3,363.90 L1602.3,365.33 L1603.3,366.76 L1604.4,368.19 L1605.4,369.63 L1606.4,371.06 L1607.5,372.50 L1608.5,373.93 L1609.5,375.37 L1610.5,376.80 L1611.6,378.24 L1612.6,379.67 L1613.6,381.11 L1614.6,382.55 L1615.7,383.98 L1616.7,385.42 L1617.7,386.86 L1618.7,388.30 L1619.8,389.74 L1620.8,391.17 L1621.8,392.61 L1622.8,394.05 L1623.8,395.49 L1624.9,396.93 L1625.9,398.37 L1626.9,399.81 L1627.9,401.25 L1628.9,402.69 L1629.9,404.14 L1631.0,405.58 L1632.0,407.02 L1633.0,408.46 L1634.0,409.90 L1635.0,411.35 L1636.0,412.79 L1637.0,414.23 L1638.0,415.67 L1639.1,417.12 L1640.1,418.56 L1641.1,420.00 L1642.1,421.45 L1643.1,422.89 L1644.1,424.33 L1645.1,425.78 L1646.1,427.22 L1647.1,428.67 L1648.2,430.11 L1649.2,431.55 L1650.2,433.00 L1651.2,434.44 L1652.2,435.89 L1653.2,437.33 L1654.2,438.78 L1655.2,440.22 L1656.2,441.67 L1657.2,443.11 L1658.2,444.55 L1659.3,446.00 L1660.3,447.44 L1661.3,448.89 L1662.3,450.33 L1663.3,451.78 L1664.3,453.22 L1665.3,454.67 L1666.3,456.11 L1667.3,457.56 L1668.3,459.00 L1669.3,460.45 L1670.4,461.89 L1671.4,463.34 L1672.4,464.78 L1673.4,466.22 L1674.4,467.67 L1675.4,469.11 L1676.4,470.56 L1677.4,472.00 L1678.4,473.44 L1679.4,474.89 L1680.5,476.33 L1681.5,477.77 L1682.5,479.22 L1683.5,480.66 L1684.5,482.10 L1685.5,483.55 L1686.5,484.99 L1687.5,486.43 L1688.6,487.87 L1689.6,489.32 L1690.6,490.76 L1691.6,492.20 L1692.6,493.64 L1693.6,495.08 L1694.6,496.52 L1695.7,497.96 L1696.7,499.40 L1697.7,500.84 L1698.7,502.28 L1699.7,503.72 L1700.8,505.16 L1701.8,506.60 L1702.8,508.04 L1703.8,509.48 L1704.8,510.92 L1705.9,512.35 L1708.9,516.65" stroke="#ff0000"/>
</g>
</g>
<g font-family="'Liberation Sans', Arial, sans-serif" font-weight="bold" fill="#000" stroke="#000" stroke-width="0.7" stroke-linejoin="round" font-size="34.2">
<text transform="translate(997.8,624.4) scale(0.936,1)" text-anchor="end">0</text>
<text transform="translate(997.8,505.4) scale(0.936,1)" text-anchor="end" clip-path="url(#one-tick-end)">10</text>
<text transform="translate(997.8,386.3) scale(0.936,1)" text-anchor="end">20</text>
<text transform="translate(997.8,267.3) scale(0.936,1)" text-anchor="end">30</text>
<text transform="translate(997.8,148.2) scale(0.936,1)" text-anchor="end">40</text>
<text transform="translate(997.8,29.2) scale(0.936,1)" text-anchor="end">50</text>
<text transform="translate(1022.6,665.40) scale(0.936,1)" text-anchor="middle">0.0</text>
<text transform="translate(1233.4,665.40) scale(0.936,1)" text-anchor="middle">0.2</text>
<text transform="translate(1444.2,665.40) scale(0.936,1)" text-anchor="middle">0.4</text>
<text transform="translate(1655.0,665.40) scale(0.936,1)" text-anchor="middle">0.6</text>
</g>

<g font-family="'Liberation Sans', Arial, sans-serif" font-weight="bold" fill="#000" stroke="#000" stroke-width="0.7" stroke-linejoin="round">
<text x="490.9" y="709.5" font-size="36.4" text-anchor="middle">Voltage (V)</text>
<text x="1391.3" y="712.0" font-size="36.62" text-anchor="middle">Voltage (V)</text>
<text transform="translate(36.8,531.9) rotate(-90)" font-size="36.05" text-anchor="start">Current density (mA/cm<tspan font-size="21.6" dx="1.4" dy="-18.3">2</tspan><tspan dx="1.0" dy="18.3">)</tspan></text>
<text transform="translate(937.9,527.2) rotate(-90)" font-size="36.36" text-anchor="start">Current density (mA/cm<tspan font-size="21.8" dx="-0.9" dy="-18.3">2</tspan><tspan dx="1.0" dy="18.3">)</tspan></text>
<g font-size="37.6">
<text transform="translate(486.8,353.8) scale(0.93,1)" clip-path="url(#one-num)">1</text>
<text transform="translate(744.5,419.7) scale(0.93,1)" text-anchor="middle">2</text>
<text transform="translate(656.7,546.5) scale(0.93,1)" text-anchor="middle">3</text>
<text transform="translate(1350.2,305.5) scale(0.93,1)" clip-path="url(#one-num)">1</text>
<text transform="translate(1439.1,184.6) scale(0.93,1)" text-anchor="middle">2</text>
<text transform="translate(1548.8,260.3) scale(0.93,1)" text-anchor="middle">3</text>
</g>
</g>
<g stroke="#000" stroke-width="2.2" stroke-linecap="round" fill="none">
<path d="M513.5,335.5 L559.4,307.4"/>
<path d="M725.4,413.5 L684.3,432.6"/>
<path d="M672.3,531.7 L712.3,510.7"/>
<path d="M1371.1,285.5 L1412.3,260.1"/>
<path d="M1426.4,176.4 L1384.8,203.6"/>
<path d="M1535.5,252.8 L1491.7,275.4"/>
</g>
<g font-family="'Liberation Serif', 'Times New Roman', serif" font-size="44" fill="#000">
<text x="491.7" y="771.0" text-anchor="middle">(a)</text>
<text x="1392.1" y="770.1" text-anchor="middle">(b)</text>
</g>

</svg>
</body>
</html>
